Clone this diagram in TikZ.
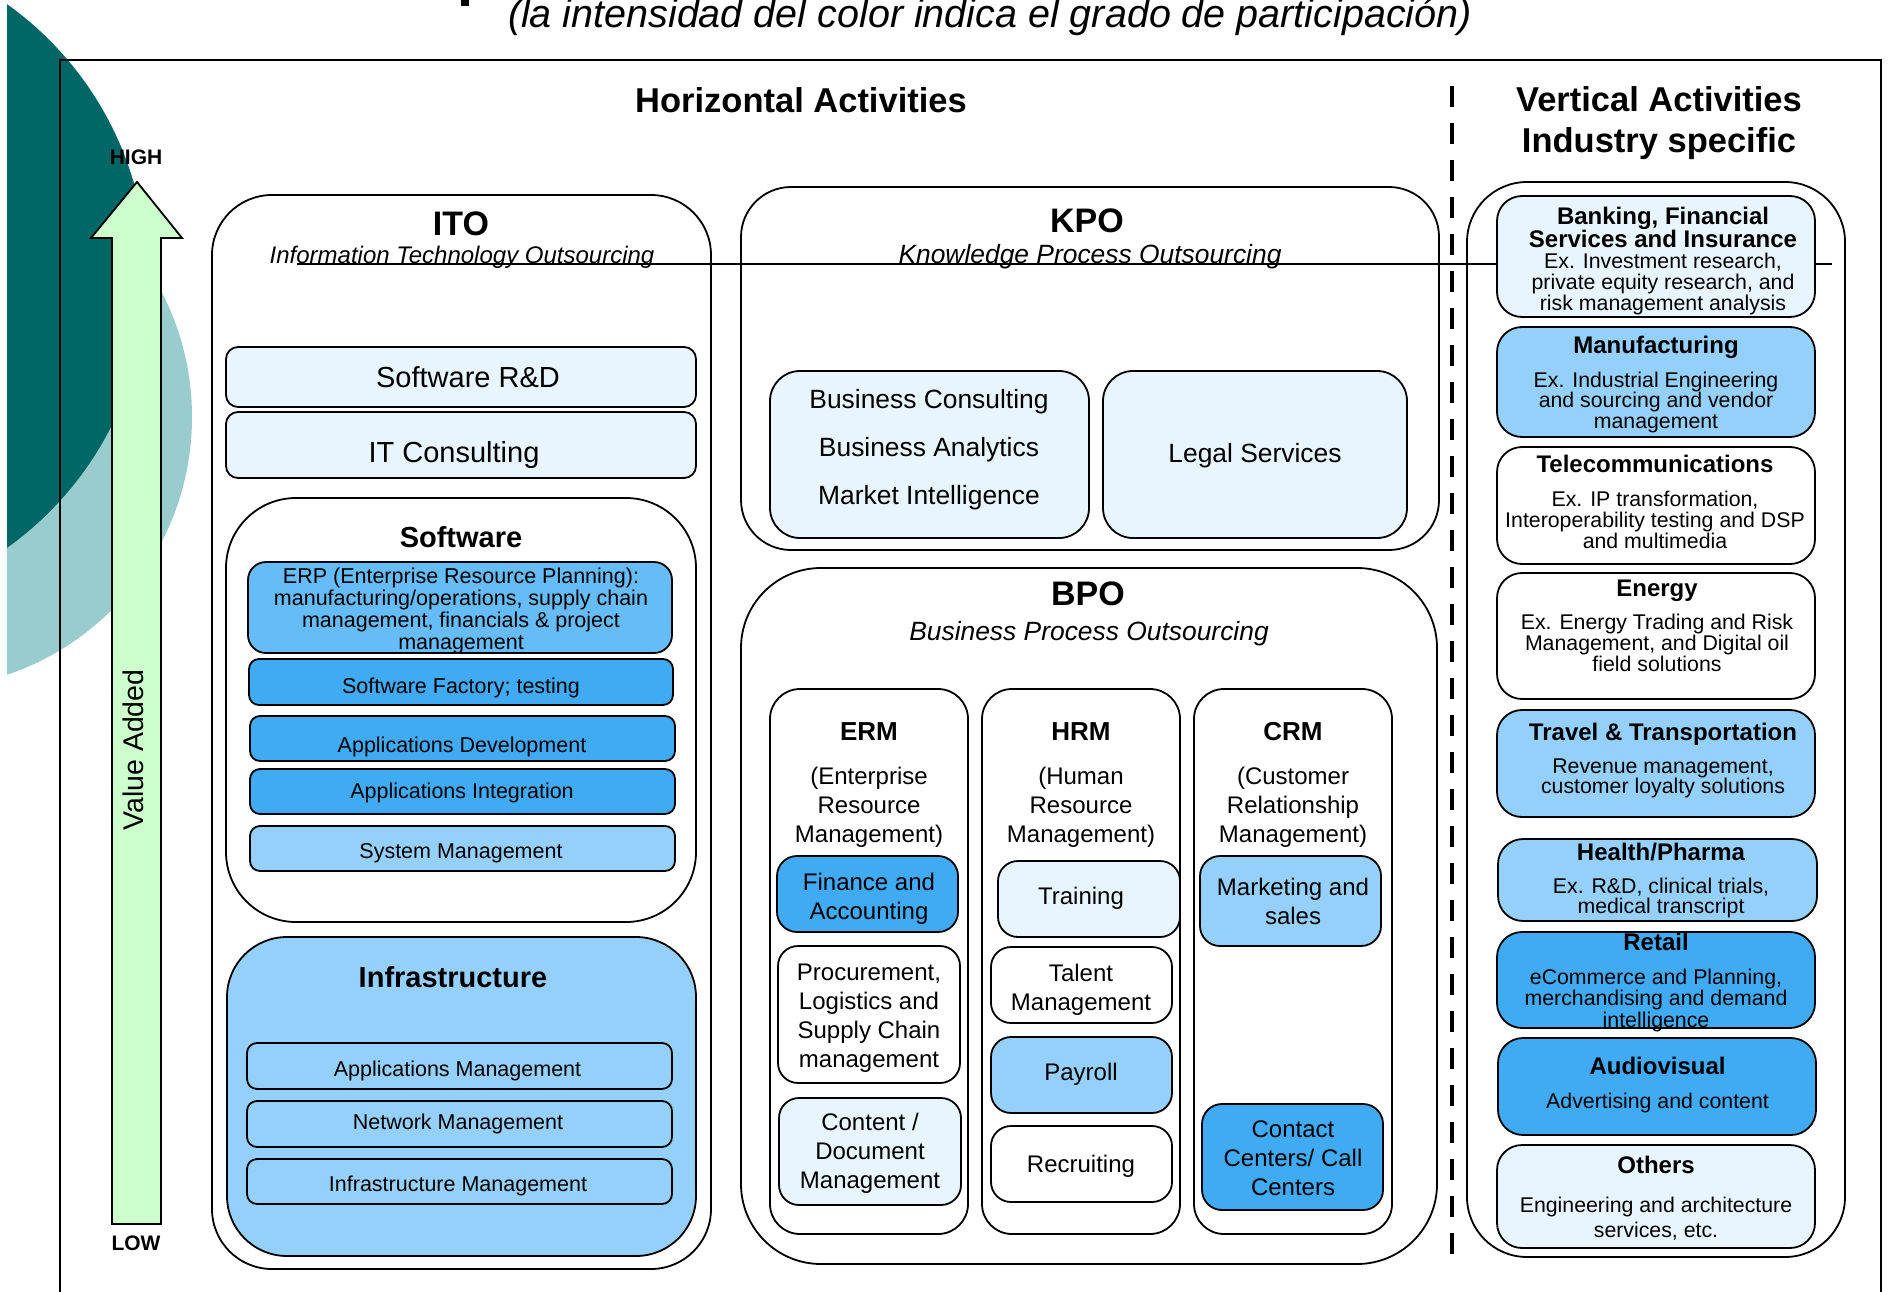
\documentclass[tikz,border=0pt]{standalone}
\usepackage{fontspec}
\setmainfont{Liberation Sans}
\newcommand{\setfs}[2]{\fontsize{#1pt}{#2pt}\selectfont}
\definecolor{tintpale}{RGB}{232,245,254}
\definecolor{tintlight}{RGB}{148,208,250}
\definecolor{tintmid}{RGB}{102,188,246}
\definecolor{tintstrong}{RGB}{64,170,243}
\definecolor{arrowgreen}{RGB}{204,255,204}
\definecolor{tealdark}{RGB}{0,102,102}
\definecolor{teallight}{RGB}{153,204,204}
\begin{document}
\begin{tikzpicture}[x=1pt, y=-1pt, line width=1.8pt,
    box/.style={draw, fill=white, inner sep=0pt, rounded corners=#1},
    box/.default=24pt,
    txt/.style={inner sep=0pt, anchor=base, align=center},
    headtxt/.style={txt, font=\bfseries\setfs{34.5}{41}},
    subtxt/.style={txt, font=\itshape\setfs{26.4}{30}},
    itemtxt/.style={txt, font=\setfs{21.5}{21.7}},
    coltxt/.style={txt, font=\setfs{24}{28.7}},
    vtitle/.style={txt, font=\bfseries\setfs{24}{23}},
    vbody/.style={txt, font=\setfs{21.3}{21}}]
  \useasboundingbox (0,0) rectangle (1889,1292);
  \clip (0,0) rectangle (1889,1292);

  % background discs
  \begin{scope}
    \clip (7,0) rectangle (300,1292);
    \fill[teallight] (-80,417) circle (272pt);
    \fill[tealdark] (-187,276) circle (334pt);
  \end{scope}
  \fill (461,0) rectangle (469,6);
  \draw (60,1300) |- (1881,60) -- (1881,1300);

  \node[txt, font=\itshape\setfs{39.5}{44}] (note) at (990,28) {(la intensidad del color indica el grado de participación)};

  % value added arrow
  \draw[fill=arrowgreen] (112,1224) -- (112,238) -- (91,238) -- (137,182) -- (182,238) -- (161,238) -- (161,1224) -- cycle;
  \node[txt, font=\bfseries\setfs{21}{24}] (high) at (136,165) {HIGH};
  \node[txt, font=\bfseries\setfs{21}{24}] (low) at (136,1250) {LOW};
  \node[inner sep=0pt, rotate=90, font=\setfs{28.5}{32}] (valueadded) at (133,750) {Value Added};

  \node[headtxt] (horiz) at (801,113) {Horizontal Activities};
  \node[headtxt] (vert) at (1659,153) {Vertical Activities\\Industry specific};
  \draw[line width=4pt, dash pattern=on 21pt off 16pt] (1452,86) -- (1452,1264);

  % ITO
  \node[box=60pt, minimum width=499, minimum height=1074] (ito) at (461.5,732) {};
  \node[headtxt, font=\bfseries\setfs{34}{40}] (itotitle) at (461,235) {ITO};
  \node[txt, font=\itshape\setfs{24}{28}] (itosub) at (462,263) {Information Technology Outsourcing};
  \node[box=12pt, fill=tintpale, minimum width=470, minimum height=60] (swrd) at (461,377) {};
  \node[txt, font=\setfs{29}{32}] (swrdtxt) at (468,387) {Software R\&D};
  \node[box=12pt, fill=tintpale, minimum width=470, minimum height=66] (itcons) at (461,445) {};
  \node[txt, font=\setfs{29}{32}] (itconstxt) at (454,462) {IT Consulting};
  \node[box=70pt, minimum width=470, minimum height=424] (soft) at (461,710) {};
  \node[txt, font=\bfseries\setfs{29}{32}] (softtxt) at (461,547) {Software};
  \node[box=18pt, fill=tintmid, minimum width=424, minimum height=91] (erp) at (460,607.5) {};
  \node[itemtxt] (erptxt) at (461,649) {ERP (Enterprise Resource Planning):\\manufacturing/operations, supply chain\\management, financials \& project\\management};
  \node[box=10pt, fill=tintstrong, minimum width=424, minimum height=46] (swfact) at (461,682) {};
  \node[itemtxt] (swfacttxt) at (461,693) {Software Factory; testing};
  \node[box=10pt, fill=tintstrong, minimum width=425, minimum height=45] (appdev) at (462.5,738.5) {};
  \node[itemtxt] (appdevtxt) at (462,752) {Applications Development};
  \node[box=10pt, fill=tintstrong, minimum width=425, minimum height=45] (appint) at (462.5,791.5) {};
  \node[itemtxt] (appinttxt) at (462,798) {Applications Integration};
  \node[box=10pt, fill=tintlight, minimum width=425, minimum height=45] (sysmgmt) at (462.5,848.5) {};
  \node[itemtxt] (sysmgmttxt) at (461,858) {System Management};
  \node[box=60pt, fill=tintlight, minimum width=469, minimum height=319] (infra) at (461.5,1096.5) {};
  \node[txt, font=\bfseries\setfs{29}{32}] (infratxt) at (453,987) {Infrastructure};
  \node[box=10pt, fill=tintlight, minimum width=425, minimum height=46] (appmgmt) at (459.5,1066) {};
  \node[itemtxt] (appmgmttxt) at (457.5,1076) {Applications Management};
  \node[box=10pt, fill=tintlight, minimum width=425, minimum height=46] (netmgmt) at (459.5,1124) {};
  \node[itemtxt] (netmgmttxt) at (458,1129) {Network Management};
  \node[box=10pt, fill=tintlight, minimum width=425, minimum height=45] (inframgmt) at (459.5,1181.5) {};
  \node[itemtxt] (inframgmttxt) at (458,1191) {Infrastructure Management};

  % KPO
  \node[box=50pt, minimum width=698, minimum height=363] (kpo) at (1090,368.5) {};
  \node[headtxt, font=\bfseries\setfs{34}{40}] (kpotitle) at (1087,232) {KPO};
  \node[subtxt] (kposub) at (1090,263) {Knowledge Process Outsourcing};
  \node[box=30pt, fill=tintpale, minimum width=319, minimum height=167] (consult) at (929.5,454.5) {};
  \node[txt, font=\setfs{26.4}{48}] (consulttxt) at (929,504) {Business Consulting\\Business Analytics\\Market Intelligence};
  \node[box=30pt, fill=tintpale, minimum width=304, minimum height=167] (legal) at (1255,454.5) {};
  \node[txt, font=\setfs{26.4}{30}] (legaltxt) at (1255,462) {Legal Services};

  % BPO
  \node[box=80pt, minimum width=696, minimum height=696] (bpo) at (1089,916) {};
  \node[headtxt, font=\bfseries\setfs{34}{40}] (bpotitle) at (1088,605) {BPO};
  \node[subtxt] (bposub) at (1089,640) {Business Process Outsourcing};
  \node[box=30pt, minimum width=198, minimum height=545] (erm) at (869,961.5) {};
  \node[txt, font=\bfseries\setfs{26}{30}] (ermtitle) at (869,740) {ERM};
  \node[coltxt] (ermsub) at (869,842) {(Enterprise\\Resource\\Management)};
  \node[box=20pt, fill=tintstrong, minimum width=181, minimum height=76] (finance) at (867.5,894) {};
  \node[coltxt] (financetxt) at (869,919) {Finance and\\Accounting};
  \node[box=20pt, minimum width=182, minimum height=137] (procure) at (869,1014.5) {};
  \node[coltxt] (procuretxt) at (869,1067) {Procurement,\\Logistics and\\Supply Chain\\management};
  \node[box=20pt, fill=tintpale, minimum width=182, minimum height=107] (content) at (870,1151.5) {};
  \node[coltxt] (contenttxt) at (870,1188) {Content /\\Document\\Management};

  \node[box=30pt, minimum width=198, minimum height=545] (hrm) at (1081,961.5) {};
  \node[txt, font=\bfseries\setfs{26}{30}] (hrmtitle) at (1081,740) {HRM};
  \node[coltxt] (hrmsub) at (1081,842) {(Human\\Resource\\Management)};
  \node[box=20pt, fill=tintpale, minimum width=182, minimum height=76] (training) at (1089,899) {};
  \node[coltxt] (trainingtxt) at (1081,904) {Training};
  \node[box=20pt, minimum width=181, minimum height=76] (talent) at (1081.5,985) {};
  \node[coltxt] (talenttxt) at (1081,1010) {Talent\\Management};
  \node[box=20pt, fill=tintlight, minimum width=181, minimum height=76] (payroll) at (1081.5,1075) {};
  \node[coltxt] (payrolltxt) at (1081,1080) {Payroll};
  \node[box=20pt, minimum width=181, minimum height=76] (recruit) at (1081.5,1164) {};
  \node[coltxt] (recruittxt) at (1081,1172) {Recruiting};

  \node[box=30pt, minimum width=198, minimum height=545] (crm) at (1293,961.5) {};
  \node[txt, font=\bfseries\setfs{26}{30}] (crmtitle) at (1293,740) {CRM};
  \node[coltxt] (crmsub) at (1293,842) {(Customer\\Relationship\\Management)};
  \node[box=20pt, fill=tintlight, minimum width=181, minimum height=90] (marketing) at (1290.5,901) {};
  \node[coltxt] (marketingtxt) at (1293,924) {Marketing and\\sales};
  \node[box=20pt, fill=tintstrong, minimum width=181, minimum height=106] (contact) at (1292.5,1157) {};
  \node[coltxt] (contacttxt) at (1293,1195) {Contact\\Centers/ Call\\Centers};

  % verticals
  \node[box=60pt, minimum width=378, minimum height=1075] (verticals) at (1656,719.5) {};
  \draw (297,264) -- (1832,264);
  \node[box=25pt, fill=tintpale, minimum width=318, minimum height=121] (bank) at (1656,256.5) {};
  \node[vtitle] (banktitle) at (1663,247) {Banking, Financial\\Services and Insurance};
  \node[vbody] (banktxt) at (1663,310) {Ex. Investment research,\\private equity research, and\\risk management analysis};
  \node[box=25pt, fill=tintlight, minimum width=318, minimum height=110] (manu) at (1656,382) {};
  \node[vtitle] (manutitle) at (1656,353) {Manufacturing};
  \node[vbody, font=\setfs{21.3}{20.5}] (manutxt) at (1656,428) {Ex. Industrial Engineering\\and sourcing and vendor\\management};
  \node[box=25pt, minimum width=318, minimum height=117] (telecom) at (1656,505.5) {};
  \node[vtitle] (telecomtitle) at (1655,472) {Telecommunications};
  \node[vbody] (telecomtxt) at (1655,548) {Ex. IP transformation,\\Interoperability testing and DSP\\and multimedia};
  \node[box=25pt, minimum width=318, minimum height=126] (energy) at (1656,636) {};
  \node[vtitle] (energytitle) at (1657,596) {Energy};
  \node[vbody] (energytxt) at (1657,671) {Ex. Energy Trading and Risk\\Management, and Digital oil\\field solutions};
  \node[box=25pt, fill=tintlight, minimum width=318, minimum height=107] (travel) at (1656,763.5) {};
  \node[vtitle] (traveltitle) at (1663,740) {Travel \& Transportation};
  \node[vbody, font=\setfs{21.3}{20.5}] (traveltxt) at (1663,793.5) {Revenue management,\\customer loyalty solutions};
  \node[box=25pt, fill=tintlight, minimum width=319, minimum height=82] (health) at (1657.5,880) {};
  \node[vtitle] (healthtitle) at (1661,860) {Health/Pharma};
  \node[vbody, font=\setfs{21.3}{20}] (healthtxt) at (1661,913) {Ex. R\&D, clinical trials,\\medical transcript};
  \node[box=25pt, fill=tintstrong, minimum width=318, minimum height=96] (retail) at (1656,980) {};
  \node[vtitle] (retailtitle) at (1656,950) {Retail};
  \node[vbody, font=\setfs{21.3}{21.5}] (retailtxt) at (1656,1027) {eCommerce and Planning,\\merchandising and demand\\intelligence};
  \node[box=25pt, fill=tintstrong, minimum width=318, minimum height=97] (audio) at (1657,1086.5) {};
  \node[vtitle] (audiotitle) at (1657.5,1074) {Audiovisual};
  \node[vbody] (audiotxt) at (1657.5,1108) {Advertising and content};
  \node[box=25pt, fill=tintpale, minimum width=318, minimum height=103] (others) at (1656,1196.5) {};
  \node[vtitle] (otherstitle) at (1656,1173) {Others};
  \node[vbody, font=\setfs{21.3}{25}] (otherstxt) at (1656,1237) {Engineering and architecture\\services, etc.};
\end{tikzpicture}
\end{document}
